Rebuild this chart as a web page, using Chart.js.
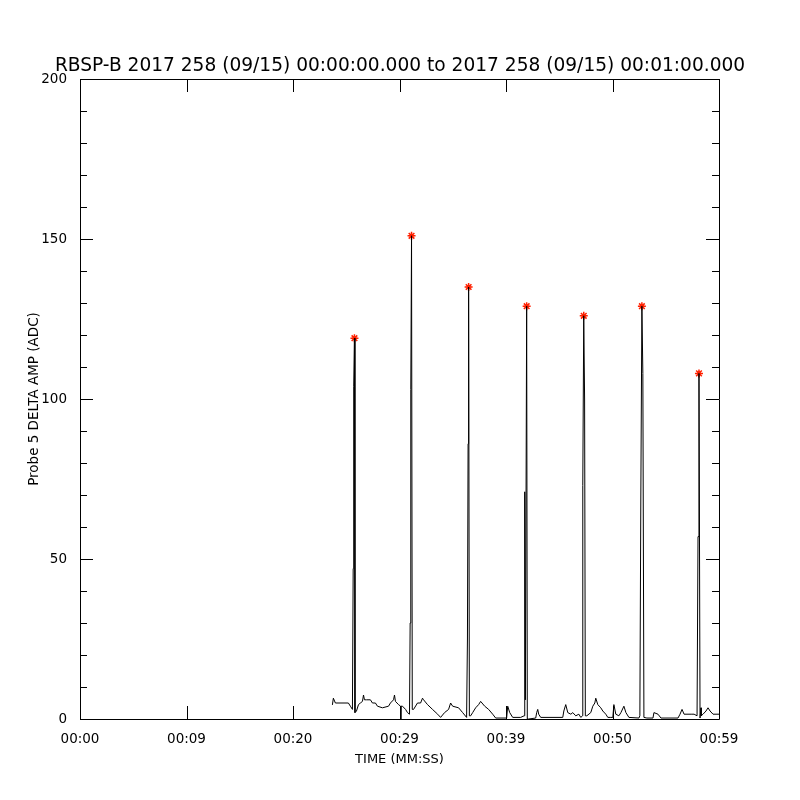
<!DOCTYPE html>
<html>
<head>
<meta charset="utf-8">
<title>RBSP-B Probe 5 DELTA AMP</title>
<script src="https://cdn.jsdelivr.net/npm/chart.js"></script>
<style>
    body { margin: 0; background: #fff; }
    canvas { display: block; }
</style>
</head>
<body>
<canvas id="grafico" width="800" height="800"></canvas>
<script>
// Datos (tiempo en segundos desde 00:00)
const tiempos = [
    23.70, 23.79, 23.98, 25.20, 25.39, 25.58, 25.65, 25.70, 25.77, 25.82,
    25.96, 26.15, 26.33, 26.52, 26.62, 26.71, 26.90, 27.27, 27.46, 27.74,
    27.93, 28.40, 28.97, 29.15, 29.44, 29.53, 29.62, 29.91, 30.10, 30.12,
    30.15, 30.28, 30.57, 30.75, 30.94, 31.00, 31.06, 31.13, 31.20, 31.32,
    31.69, 31.98, 32.16, 32.26, 32.63, 33.10, 33.58, 33.86, 34.23, 34.61,
    34.80, 34.99, 35.55, 35.93, 36.30, 36.38, 36.44, 36.49, 36.56, 36.68,
    36.87, 37.15, 37.43, 37.62, 38.00, 38.37, 38.75, 39.03, 40.06, 40.16,
    40.35, 40.63, 41.38, 41.70, 41.76, 41.82, 41.94, 42.00, 42.13, 42.79,
    42.88, 42.98, 43.07, 43.26, 45.33, 45.43, 45.61, 45.80, 46.09, 46.27,
    46.55, 46.84, 47.02, 47.19, 47.21, 47.30, 47.38, 47.45, 47.59, 47.96,
    48.15, 48.34, 48.43, 48.62, 48.90, 49.09, 49.37, 49.56, 49.84, 50.03,
    50.13, 50.31, 50.60, 50.79, 51.07, 51.26, 51.54, 52.48, 52.57, 52.66,
    52.76, 52.85, 52.95, 53.23, 53.80, 53.89, 54.27, 54.55, 56.15, 56.34,
    56.53, 56.72, 57.38, 57.66, 57.94, 58.03, 58.12, 58.22, 58.31, 58.33,
    58.50, 58.78, 58.97, 59.16, 59.44, 59.72, 60.00
];
const amplitudes = [
    4.4, 6.5, 5, 5, 4, 3, 47, 104, 119, 2,
    2.5, 4.5, 5, 5.5, 7.5, 6, 6, 6, 5, 5,
    4, 3.5, 4, 5, 6, 7.5, 5.5, 4.5, 4, 0,
    4, 4, 3, 2, 1.5, 30, 103, 151, 3, 3,
    5, 5, 6.5, 6, 4.5, 3, 1.5, 0.5, 2, 3,
    5, 4, 3.5, 2, 0.5, 25, 86, 135, 1, 1,
    2, 3.5, 4.5, 5.5, 4, 3, 1.5, 0.3, 0.3, 4,
    2, 0.5, 0.5, 1, 71, 6, 129, 0, 0, 0.3,
    2, 3, 1.5, 0.5, 0.5, 2.5, 4.5, 2, 1.5, 2,
    1, 1.5, 0.5, 1, 73, 126, 100, 1, 1, 2,
    4, 5, 6.5, 4.5, 3.5, 2.5, 1.5, 0.5, 0.5, 0.5,
    4.5, 1.5, 1, 2, 4, 2, 0.5, 0.3, 1, 70,
    129, 108, 0.5, 0.3, 0.3, 2, 1.5, 0.3, 0.3, 1.5,
    3, 1.5, 1.5, 1.5, 1, 57, 108, 0.3, 3.5, 1,
    1.5, 2.5, 3.5, 2.5, 1.5, 1.5, 1.5
];

// Picos marcados con asterisco rojo
const picosTiempo = [25.77, 31.13, 36.49, 41.94, 47.30, 52.76, 58.12];
const picosAmp = [119, 151, 135, 129, 126, 129, 108];

// Ejes
const ticksX = [0, 10, 20, 30, 40, 50, 60];
const etiquetasX = ['00:00', '00:09', '00:20', '00:29', '00:39', '00:50', '00:59'];
const ticksY = [0, 50, 100, 150, 200];

const fuente = 'DejaVu Sans';
Chart.defaults.color = '#000';
Chart.defaults.font.family = fuente;

// Marco y marcas hacia dentro (estilo IDL)
const marcasInternas = {
    id: 'marcasInternas',
    afterDatasetsDraw(chart) {
        const { ctx, chartArea: a, scales: { x, y } } = chart;
        ctx.save();
        ctx.strokeStyle = '#000';
        ctx.lineWidth = 1;
        ctx.beginPath();
        ctx.rect(Math.round(a.left) + 0.5, Math.round(a.top) + 0.5,
            Math.round(a.right - a.left), Math.round(a.bottom - a.top));
        ticksX.forEach(v => {
            const px = Math.round(x.getPixelForValue(v)) + 0.5;
            ctx.moveTo(px, a.bottom);
            ctx.lineTo(px, a.bottom - 13);
            ctx.moveTo(px, a.top);
            ctx.lineTo(px, a.top + 13);
        });
        for (let v = 0; v <= 200; v += 10) {
            const py = Math.round(y.getPixelForValue(v)) + 0.5;
            const largo = v % 50 === 0 ? 13 : 7;
            ctx.moveTo(a.left, py);
            ctx.lineTo(a.left + largo, py);
            ctx.moveTo(a.right, py);
            ctx.lineTo(a.right - largo, py);
        }
        ctx.stroke();
        ctx.restore();
    }
};

const datosLinea = tiempos.map((t, i) => ({ x: t, y: amplitudes[i] }));
const datosPicos = picosTiempo.map((t, i) => ({ x: t, y: picosAmp[i] }));

new Chart(document.getElementById('grafico').getContext('2d'), {
    type: 'line',
    data: {
        datasets: [
            {
                label: 'Probe 5 DELTA AMP',
                data: datosLinea,
                borderColor: '#000',
                borderWidth: 1,
                pointRadius: 0,
                tension: 0,
                fill: false
            },
            {
                label: 'Picos',
                data: datosPicos,
                showLine: false,
                pointStyle: 'star',
                pointRadius: 4,
                borderColor: '#ff2000',
                backgroundColor: '#ff2000',
                borderWidth: 1.5
            }
        ]
    },
    options: {
        responsive: false,
        animation: false,
        layout: { padding: 0 },
        plugins: {
            legend: { display: false },
            tooltip: { enabled: false },
            title: {
                display: true,
                text: 'RBSP-B 2017 258 (09/15) 00:00:00.000 to 2017 258 (09/15) 00:01:00.000',
                font: { family: fuente, size: 18.6, weight: 'normal', lineHeight: 1 },
                color: '#000',
                padding: { top: 57, bottom: 3.4 }
            }
        },
        scales: {
            x: {
                type: 'linear',
                min: 0,
                max: 60,
                grid: { display: false },
                border: { display: false },
                afterFit: s => { s.height = 81; },
                afterBuildTicks: s => { s.ticks = ticksX.map(v => ({ value: v })); },
                ticks: {
                    autoSkip: false,
                    maxRotation: 0,
                    padding: 4,
                    font: { size: 13.5 },
                    callback: (v, i) => etiquetasX[i]
                },
                title: {
                    display: true,
                    text: 'TIME (MM:SS)',
                    font: { size: 13 },
                    padding: { top: 0, bottom: 33 }
                }
            },
            y: {
                min: 0,
                max: 200,
                grid: { display: false },
                border: { display: false },
                afterFit: s => { s.width = 80; },
                afterBuildTicks: s => { s.ticks = ticksY.map(v => ({ value: v })); },
                ticks: {
                    padding: 5,
                    font: { size: 13.5 }
                },
                title: {
                    display: true,
                    text: 'Probe 5 DELTA AMP (ADC)',
                    font: { size: 13.5 },
                    padding: { top: 26, bottom: 0 }
                }
            },
            // eje vacío a la derecha para dejar el margen
            margenDer: {
                position: 'right',
                min: 0,
                max: 200,
                grid: { display: false },
                border: { display: false },
                ticks: { display: false },
                afterFit: s => { s.width = 81; }
            }
        }
    },
    plugins: [marcasInternas]
});
</script>
</body>
</html>
